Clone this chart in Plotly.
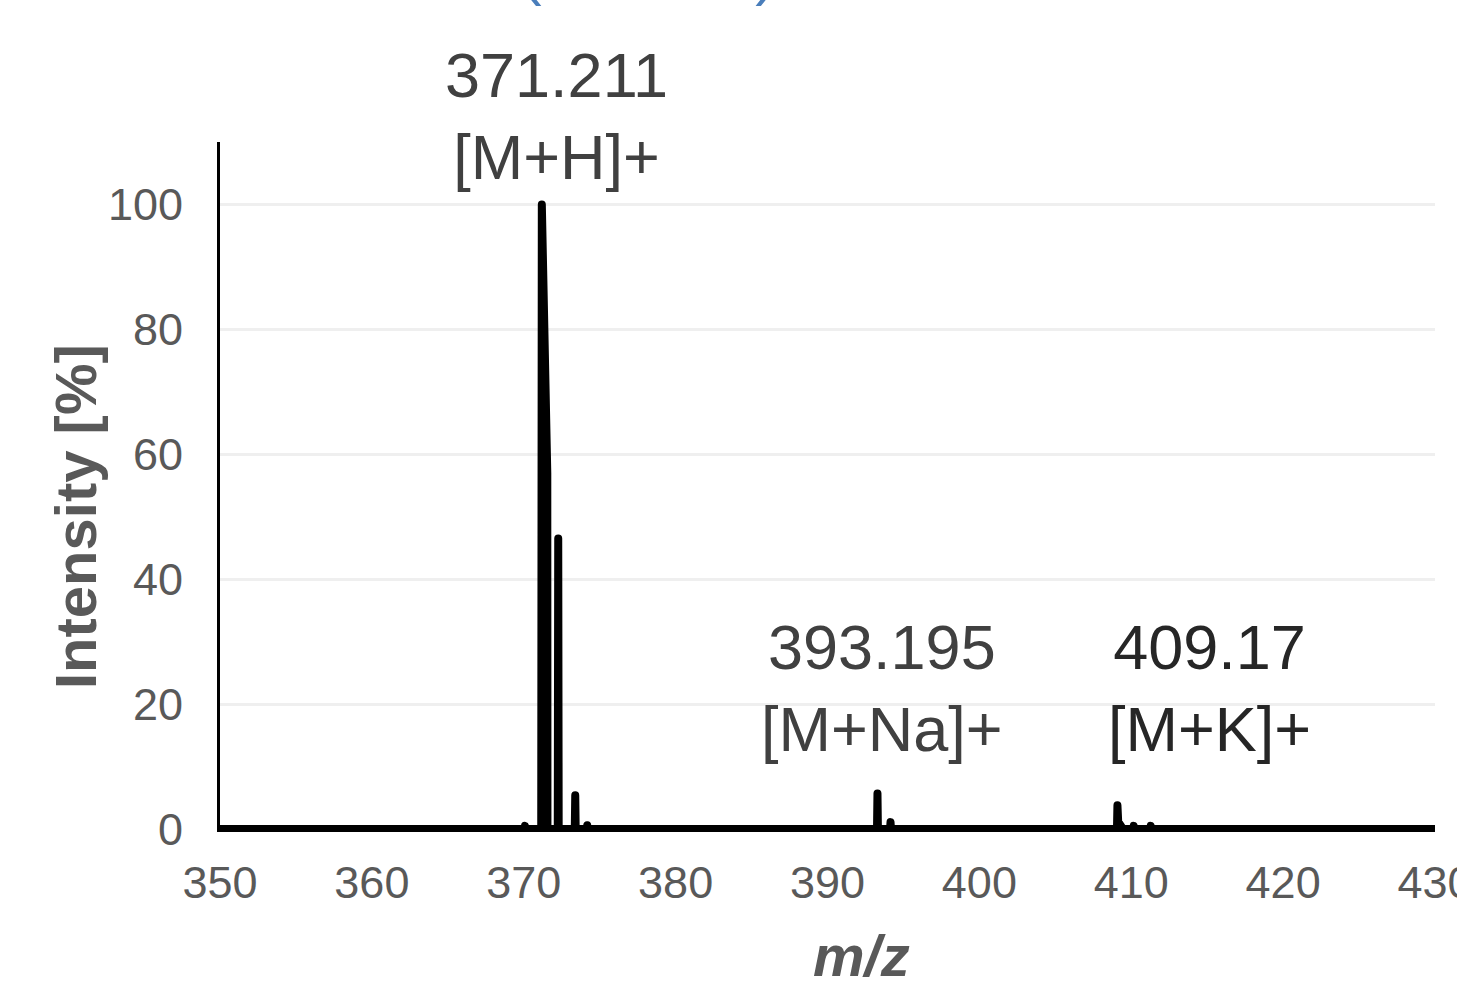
import plotly.graph_objects as go

# Profile spectrum (m/z, relative intensity %)
mz = [350.0, 370.04, 370.08, 370.12, 371.15, 371.19, 371.55, 371.56,
      372.24, 372.27, 372.30, 373.36, 373.39, 373.42, 374.15, 374.18, 374.21,
      393.26, 393.29, 393.32, 394.12, 394.15, 394.18,
      409.06, 409.09, 409.14, 409.45, 410.13, 410.16, 410.19,
      411.25, 411.28, 411.31, 430.0]
intensity = [0.0, 0.0, 0.5, 0.0, 0.0, 100.0, 57.0, 0.0,
             0.0, 46.5, 0.0, 0.0, 5.4, 0.0, 0.0, 0.6, 0.0,
             0.0, 5.7, 0.0, 0.0, 1.1, 0.0,
             0.0, 3.8, 1.2, 0.0, 0.0, 0.5, 0.0,
             0.0, 0.5, 0.0, 0.0]

peak_labels = ["371.211<br>[M+H]+", "393.195<br>[M+Na]+", "409.17<br>[M+K]+"]
label_x = [372.17, 393.59, 415.12]
label_y = [114.2, 22.5, 22.5]
label_colors = ["#404040", "#404040", "#262626"]

x_ticks = [350, 360, 370, 380, 390, 400, 410, 420, 430]
y_ticks = [0, 20, 40, 60, 80, 100]
Y_MAX = 110

FONT = "Arial, 'Liberation Sans', sans-serif"

fig = go.Figure()
fig.add_trace(go.Scatter(
    x=mz, y=intensity, mode="lines",
    line=dict(color="black", width=8),
    showlegend=False, hoverinfo="skip",
))

for t, x, y, c in zip(peak_labels, label_x, label_y, label_colors):
    fig.add_annotation(x=x, y=y / Y_MAX, xref="x", yref="paper", text=t, showarrow=False,
                       font=dict(family=FONT, size=63, color=c),
                       xanchor="center", yanchor="middle", align="center")

# axis titles
fig.add_annotation(x=(75 - 220) / 1215, y=(829 - 517) / 687, xref="paper", yref="paper",
                   text="<b>Intensity [%]</b>", textangle=-90, showarrow=False,
                   font=dict(family=FONT, size=58, color="#595959"),
                   xanchor="center", yanchor="middle")
fig.add_annotation(x=(862 - 220) / 1215, y=(829 - 955) / 687, xref="paper", yref="paper",
                   text="<b><i>m/z</i></b>", showarrow=False,
                   font=dict(family=FONT, size=58, color="#595959"),
                   xanchor="center", yanchor="middle")
# partially visible panel title
fig.add_annotation(x=(648 - 220) / 1215, y=(829 - 8) / 687, xref="paper", yref="paper",
                   text="(ESI-MS)", showarrow=False,
                   font=dict(family=FONT, size=62, color="#4a7ebb"),
                   xanchor="center", yanchor="bottom")

fig.update_layout(
    width=1457, height=982,
    margin=dict(l=220, r=22, t=142, b=153, autoexpand=False),
    plot_bgcolor="white", paper_bgcolor="white",
    font=dict(family=FONT, color="#595959"),
)
fig.update_xaxes(
    range=[350, 430], tickvals=x_ticks, ticktext=[str(v) for v in x_ticks],
    showgrid=False, zeroline=False, automargin=False,
    showline=True, linecolor="black", linewidth=3,
    ticks="", ticklabelstandoff=12, ticklabeloverflow="allow",
    tickfont=dict(family=FONT, size=45, color="#595959"),
)
fig.update_yaxes(
    range=[0, Y_MAX], tickvals=y_ticks, ticktext=[str(v) for v in y_ticks],
    showgrid=True, gridcolor="#efefef", gridwidth=3, zeroline=False, automargin=False,
    showline=True, linecolor="black", linewidth=3,
    ticks="", ticklabelstandoff=25, ticklabeloverflow="allow",
    tickfont=dict(family=FONT, size=45, color="#595959"),
)

post = """
document.body.style.margin='0';
document.body.style.overflow='hidden';
document.querySelectorAll('.scatterlayer path.js-line').forEach(function(p){
  p.style.strokeLinejoin='round'; p.style.strokeLinecap='round';
});
"""
fig.write_html("out.html", post_script=post, config={"displayModeBar": False})
